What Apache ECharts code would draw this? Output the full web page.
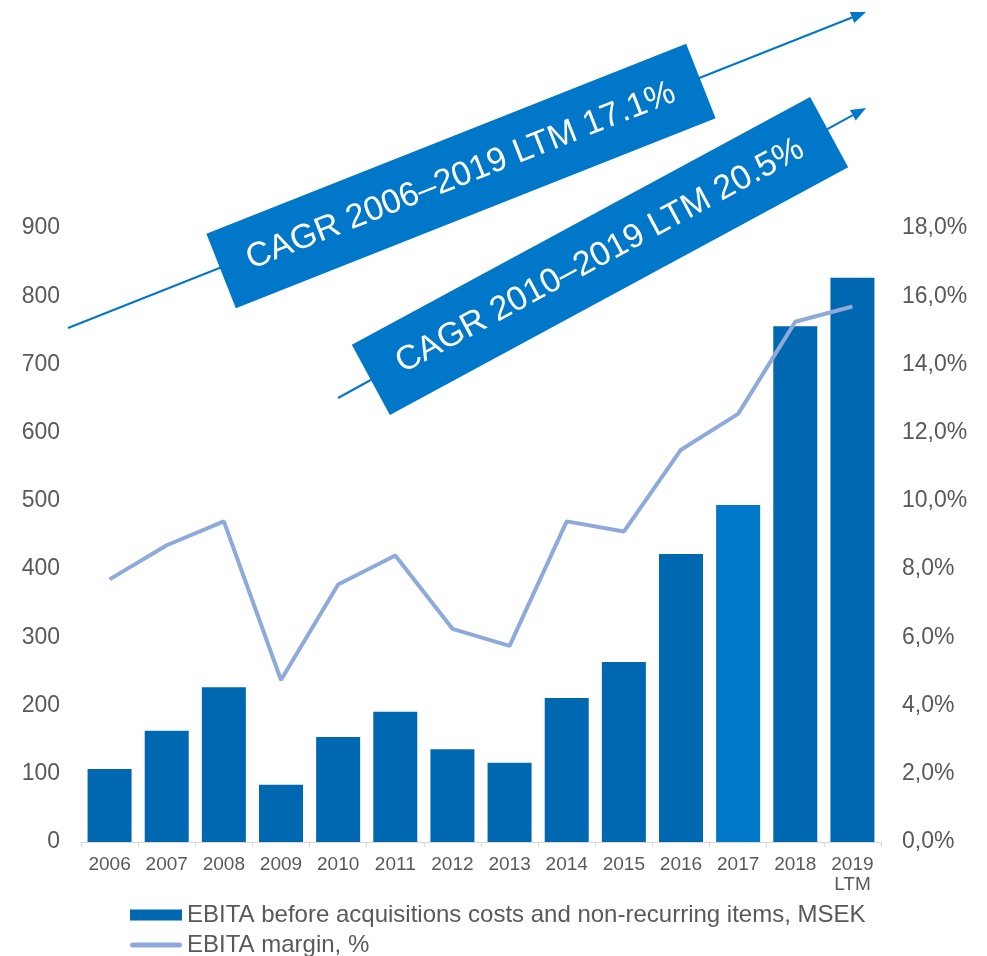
<!DOCTYPE html>
<html>
<head>
    <meta charset="utf-8">
    <title>EBITA development</title>
    <script src="https://cdn.jsdelivr.net/npm/echarts@6.0.0/dist/echarts.min.js"></script>
    <style>
        body, html {
            margin: 0;
            padding: 0;
            background: #fff;
        }
        #main {
            width: 987px;
            height: 956px;
        }
    </style>
</head>
<body>
    <div id="main"></div>
    <script>
        // data
        const years = ['2006', '2007', '2008', '2009', '2010', '2011', '2012',
                       '2013', '2014', '2015', '2016', '2017', '2018', '2019\nLTM'];
        const ebita = [107, 163, 227, 84, 154, 191, 136, 116, 211, 264, 422, 494, 756, 827];
        const margin = [7.7, 8.7, 9.4, 4.75, 7.55, 8.4, 6.25, 5.75, 9.4, 9.1, 11.5, 12.55, 15.25, 15.7];
        const leftTicks = [0, 900, 100];   // min, max, interval
        const rightTicks = [0, 18, 2];
        const cagrLabels = ['CAGR 2006\u20132019 LTM 17.1%', 'CAGR 2010\u20132019 LTM 20.5%'];

        const barName = 'EBITA before acquisitions costs and non-recurring items, MSEK';
        const lineName = 'EBITA margin, %';
        const highlightIdx = 11; // 2017 drawn in a lighter blue

        const chart = echarts.init(document.getElementById('main'));
        const font = 'Liberation Sans, Arial, sans-serif';
        const blue = '#0077c8';

        // rotated label box with an arrow behind it
        function cagrGraphic(text, cx, cy, w, h, deg, x1, y1, x2, y2) {
            const rad = deg * Math.PI / 180;
            const ang = Math.atan2(y2 - y1, x2 - x1);
            const len = 15, half = 6;
            const bx = x2 - len * Math.cos(ang), by = y2 - len * Math.sin(ang);
            const px = -Math.sin(ang) * half, py = Math.cos(ang) * half;
            return [
                {
                    type: 'line',
                    shape: { x1: x1, y1: y1, x2: bx, y2: by },
                    style: { stroke: blue, lineWidth: 2 },
                    z: 50
                },
                {
                    type: 'polygon',
                    shape: { points: [[x2, y2], [bx + px, by + py], [bx - px, by - py]] },
                    style: { fill: blue },
                    z: 50
                },
                {
                    type: 'group',
                    x: cx, y: cy,
                    rotation: rad,
                    z: 60,
                    children: [
                        {
                            type: 'rect',
                            shape: { x: -w / 2, y: -h / 2, width: w, height: h },
                            style: { fill: blue },
                            z: 60
                        },
                        {
                            type: 'text',
                            x: 0, y: 0,
                            style: {
                                text: text,
                                fill: '#fff',
                                font: '34px ' + font,
                                align: 'center',
                                verticalAlign: 'middle'
                            },
                            z: 61
                        }
                    ]
                }
            ];
        }

        const legendBase = {
            left: 130,
            padding: 0,
            itemWidth: 52,
            itemHeight: 11,
            textStyle: { color: '#595959', fontSize: 24, fontFamily: font }
        };

        const option = {
            backgroundColor: '#fff',
            animation: false,
            grid: {
                left: 81,
                right: 106,
                top: 228,
                bottom: 114
            },
            legend: [
                Object.assign({}, legendBase, {
                    top: 903,
                    data: [{ name: barName, icon: 'rect' }]
                }),
                Object.assign({}, legendBase, {
                    top: 933,
                    data: [{ name: lineName, icon: 'path://M2.5,0 L49.5,0 A2.5,2.5 0 0 1 49.5,5 L2.5,5 A2.5,2.5 0 0 1 2.5,0 Z' }]
                })
            ],
            xAxis: {
                type: 'category',
                data: years,
                axisLine: { lineStyle: { color: '#d9d9d9', width: 1 } },
                axisTick: { show: true, length: 5, lineStyle: { color: '#d9d9d9' } },
                axisLabel: {
                    color: '#595959',
                    fontSize: 19,
                    fontFamily: font,
                    margin: 13,
                    lineHeight: 20,
                    interval: 0
                }
            },
            yAxis: [
                {
                    type: 'value',
                    min: leftTicks[0],
                    max: leftTicks[1],
                    interval: leftTicks[2],
                    splitLine: { show: false },
                    axisLine: { show: false },
                    axisTick: { show: false },
                    axisLabel: { color: '#595959', fontSize: 23, fontFamily: font, margin: 21 }
                },
                {
                    type: 'value',
                    min: rightTicks[0],
                    max: rightTicks[1],
                    interval: rightTicks[2],
                    splitLine: { show: false },
                    axisLine: { show: false },
                    axisTick: { show: false },
                    axisLabel: {
                        color: '#595959', fontSize: 23, fontFamily: font, margin: 21,
                        formatter: v => v.toFixed(1).replace('.', ',') + '%'
                    }
                }
            ],
            series: [
                {
                    name: barName,
                    type: 'bar',
                    barCategoryGap: '23%',
                    itemStyle: { color: '#0067b1' },
                    data: ebita.map((v, i) => i === highlightIdx
                        ? { value: v, itemStyle: { color: '#0078c9' } }
                        : v)
                },
                {
                    name: lineName,
                    type: 'line',
                    yAxisIndex: 1,
                    symbol: 'none',
                    itemStyle: { color: '#8eaadb' },
                    lineStyle: { color: '#8eaadb', width: 4 },
                    data: margin
                }
            ],
            graphic: [].concat(
                cagrGraphic(cagrLabels[0], 461, 176, 516, 80, 21.6, 68, 328, 866, 12),
                cagrGraphic(cagrLabels[1], 600, 256, 521, 80, 28.4, 338, 398, 866, 108)
            )
        };

        chart.setOption(option);
    </script>
</body>
</html>
